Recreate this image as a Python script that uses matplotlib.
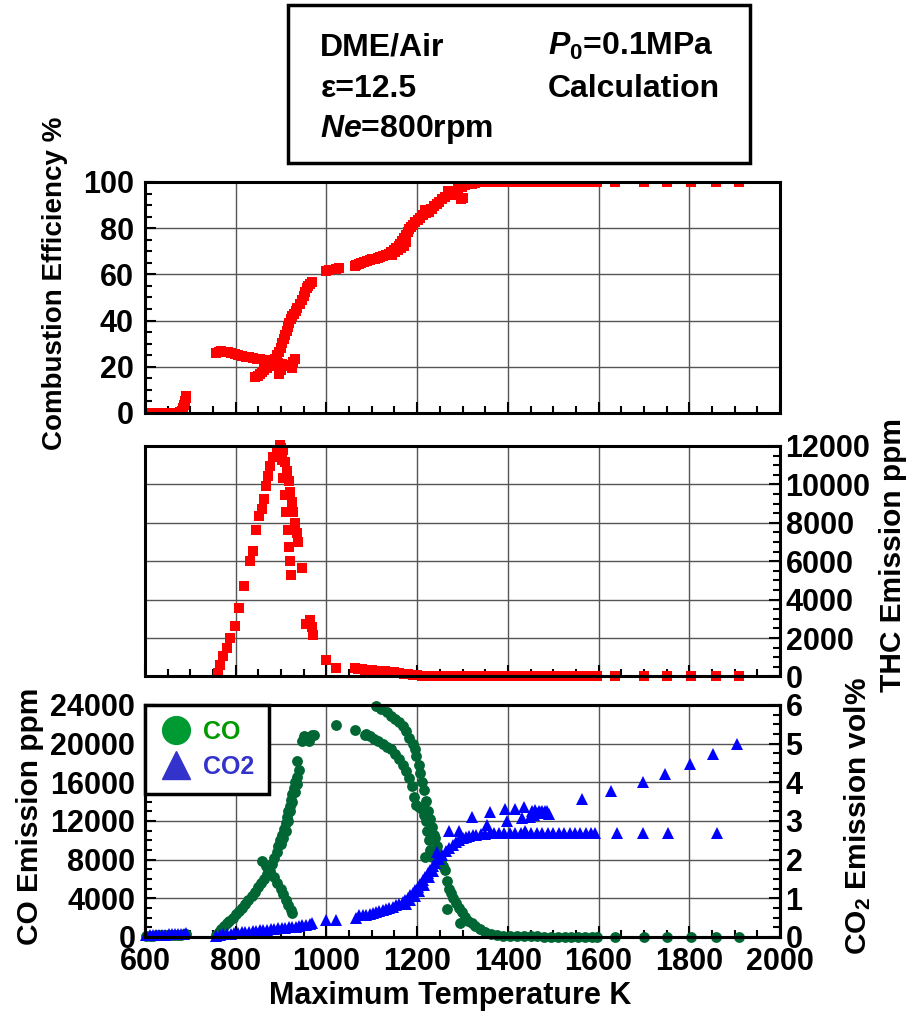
import numpy as np
import matplotlib
matplotlib.use("Agg")
import matplotlib.pyplot as plt
from matplotlib.ticker import MultipleLocator
from matplotlib.lines import Line2D
from matplotlib.patches import Rectangle

plt.rcParams['font.family'] = ['Liberation Sans', 'DejaVu Sans']
plt.rcParams['font.weight'] = 'bold'
plt.rcParams['mathtext.fontset'] = 'custom'
plt.rcParams['mathtext.rm'] = 'Liberation Sans:bold'
plt.rcParams['mathtext.bf'] = 'Liberation Sans:bold'
plt.rcParams['mathtext.it'] = 'Liberation Sans:bold:italic'

# --- data ---
# combustion efficiency (%)
eff_T = [603, 610, 617, 624, 631, 638, 645, 652, 659, 666, 672, 677, 681, 684, 686, 688, 690, 691,
         757, 762, 768, 775, 782, 790, 798, 806, 814, 822, 830, 838, 846, 854, 862, 870, 878, 886, 894, 902, 910, 918, 925,
         843, 848, 853, 858, 863, 868, 873, 878, 883, 887, 891, 895, 899, 903, 906, 909, 912, 915, 918, 921, 924, 928,
         932, 936, 941, 946, 950, 953, 956, 960, 964, 968,
         895, 900, 924, 930, 926,
         1000, 1005, 1022, 1027,
         1062, 1066, 1071, 1077, 1083, 1089, 1095, 1101, 1107, 1113, 1119, 1125, 1131, 1137, 1143, 1149, 1154, 1159,
         1163, 1167, 1171, 1175, 1179, 1183, 1187, 1191, 1196, 1201, 1207, 1213, 1219, 1225, 1231, 1237, 1243, 1249,
         1255, 1261, 1267, 1275, 1283, 1290, 1298, 1305, 1313, 1320, 1328, 1335, 1343,
         1145, 1152, 1158, 1164, 1170, 1176,
         1218, 1226, 1233, 1269, 1281, 1296, 1300,
         1350, 1360, 1370, 1380, 1390, 1400, 1410, 1420, 1430, 1440, 1450, 1460, 1470, 1480, 1490, 1500,
         1510, 1520, 1530, 1540, 1550, 1560, 1570, 1580, 1590, 1597,
         1636, 1700, 1750, 1803, 1859, 1909]
eff = [0, 0, 0, 0, 0, 0, 0, 0, 0, 0, 0, 0.5, 1, 2, 3.5, 5, 6.5, 7.5,
       26, 26.5, 26.7, 26.5, 26.2, 25.8, 25.5, 25.1, 24.8, 24.4, 24.1, 23.8, 23.5, 23.3, 23.0, 22.8, 22.4, 22.0, 21.6, 21.2, 20.8, 20.5, 20.2,
       15.5, 16.2, 17, 17.8, 18.6, 19.4, 20.2, 21.2, 22.3, 23.5, 25, 26.6, 28.3, 30.2, 32, 33.8, 35.5, 37.3, 39, 40.5, 41.8, 43,
       44.3, 45.6, 47.2, 48.8, 50.5, 52.5, 54, 55, 55.8, 56.5,
       17, 18.5, 19.5, 23.5, 22,
       61.3, 61.7, 62.5, 62.8,
       63.5, 64, 64.5, 64.8, 65.3, 65.8, 66.2, 66.5, 66.8, 67.2, 67.6, 68.0, 68.5, 69.0, 69.7, 70.5, 71.3, 72.3,
       73.3, 74.5, 75.8, 77, 78.3, 79.5, 80.5, 81.5, 82.5, 83.5, 84.5, 85.5, 86.5, 87.5, 88.5, 89.5, 90.5, 91.5,
       92.5, 93.5, 94.5, 95.5, 96.3, 97, 97.8, 98.5, 99, 99.3, 99.6, 99.8, 100,
       68.5, 69.5, 70.5, 71.5, 72.5, 74,
       88, 87, 88.5, 96, 94.5, 92.5, 93,
       100, 100, 100, 100, 100, 100, 100, 100, 100, 100, 100, 100, 100, 100, 100, 100,
       100, 100, 100, 100, 100, 100, 100, 100, 100, 100,
       100, 100, 100, 100, 100, 100]

# THC emission (ppm)
thc_T = [760, 766, 772, 780, 787, 798, 807, 819, 832, 838, 844, 851, 858, 862, 867, 872, 876, 883, 890, 897,
         899, 902, 905, 908, 911, 915, 917, 920, 922,
         904, 908, 913, 917, 920, 924, 927, 931, 934, 937,
         945, 954, 963, 968, 970, 1000, 1021,
         1063, 1070, 1078, 1085, 1092, 1100, 1110, 1120, 1130, 1140, 1150, 1160, 1170, 1180, 1190, 1200,
         1210, 1220, 1235, 1250, 1265, 1280, 1295, 1310, 1325, 1340, 1355, 1370, 1385, 1400, 1415, 1430,
         1445, 1460, 1475, 1490, 1505, 1520, 1535, 1550, 1565, 1580, 1597,
         1636, 1700, 1750, 1803, 1859, 1909]
thc = [200, 600, 1050, 1500, 2000, 2650, 3550, 4700, 6000, 6550, 7650, 8350, 8700, 9250, 9900, 10450, 10950, 11400, 11800, 12050,
       11900, 11250, 10350, 9450, 8550, 7650, 6750, 6000, 5300,
       11800, 11150, 10700, 10150, 9600, 9100, 8550, 8000, 7450, 7000,
       5650, 2750, 2950, 2600, 2150, 850, 450,
       450, 400, 380, 360, 340, 320, 300, 280, 260, 240, 210, 180, 140, 110, 80, 55,
       35, 20, 10, 5, 0, 0, 0, 0, 0, 0, 0, 0, 0, 0, 0, 0,
       0, 0, 0, 0, 0, 0, 0, 0, 0, 0, 0,
       0, 0, 0, 0, 0, 0]

# CO emission (ppm)
co_T = [603, 610, 617, 624, 631, 638, 645, 652, 659, 666, 673, 680, 686, 690,
        756, 762, 768, 774, 780, 786, 793, 800, 807, 814, 821, 828, 835, 842, 849, 856, 862, 868, 874, 880,
        885, 890, 894, 898, 902, 906, 910, 913, 916, 919, 922, 925, 928, 931, 934,
        900, 905, 910, 915, 920, 925, 930, 935,
        936, 940, 947, 950, 955, 962, 968, 973,
        857, 866, 875, 884, 892, 899, 905, 911, 916, 921, 924,
        1022, 1064, 1085, 1110, 1120, 1133, 1142, 1151, 1160, 1168, 1176, 1183, 1190, 1195, 1198, 1203, 1207,
        1210, 1214, 1219, 1224, 1228, 1232, 1236, 1240, 1243, 1247, 1252, 1258, 1262, 1266, 1270, 1274, 1280,
        1285, 1292, 1298, 1305, 1313, 1320, 1328, 1338, 1350, 1362, 1375, 1390, 1405, 1420,
        1435, 1450, 1465, 1480, 1495, 1510, 1525, 1540, 1555, 1570, 1585, 1597,
        1087, 1096, 1105, 1114, 1124, 1133, 1142, 1151, 1160, 1168, 1175, 1182, 1188, 1193, 1198, 1203, 1210,
        1215, 1219, 1222, 1226, 1229, 1232, 1218,
        1265, 1294,
        1636, 1700, 1750, 1803, 1859, 1909]
co = [150, 150, 150, 160, 160, 170, 170, 180, 190, 200, 220, 250, 300, 350,
      200, 500, 800, 1100, 1400, 1700, 2000, 2350, 2700, 3050, 3450, 3850, 4250, 4700, 5150, 5600, 6050, 6550, 7050, 7600,
      8150, 8800, 9400, 10000, 10600, 11200, 11800, 12400, 13000, 13600, 14200, 14800, 15400, 16000, 16600,
      9600, 10200, 11000, 12000, 13000, 14000, 15000, 15800,
      18200, 17300, 20300, 20800, 20700, 20300, 20900, 20900,
      7900, 7300, 6800, 6200, 5600, 5000, 4400, 3800, 3300, 2800, 2500,
      21900, 21400, 20900, 23900, 23600, 23300, 22900, 22600, 22200, 21800, 21300, 20600, 20000, 19400, 18700, 17800, 17000,
      16000, 15200, 14100, 13000, 12200, 11400, 10500, 10200, 9400, 8600, 7900, 7300, 6900, 5800, 5000, 4500, 4000,
      3500, 3000, 2600, 2100, 1700, 1400, 1100, 800, 550, 350, 220, 150, 110, 90,
      70, 60, 55, 50, 50, 45, 45, 40, 40, 40, 40, 40,
      21000, 20800, 20500, 20300, 20000, 19700, 19400, 18900, 18400, 17800, 17200, 16400, 15600, 14500, 13700, 13400, 13200,
      12600, 12000, 11000, 10000, 9000, 8300, 8300,
      2900, 1400,
      0, 0, 0, 0, 0, 0]

# CO2 emission (vol%)
co2_T = [603, 610, 617, 624, 631, 638, 645, 652, 659, 666, 673, 680, 686, 690,
         757, 765, 773, 781, 789, 797, 805, 813, 821, 829, 837, 845, 853, 861, 869, 877, 885, 893, 901, 909, 917,
         925, 933, 940, 946, 955, 963, 969, 999, 1021,
         1065, 1072, 1080, 1087, 1095, 1102, 1109, 1116, 1124, 1131, 1138, 1146, 1153, 1160, 1168, 1174, 1179,
         1185, 1190, 1196, 1201, 1207, 1212, 1218, 1223, 1229, 1234, 1240, 1248, 1255, 1263, 1270, 1278, 1285, 1293,
         1300, 1307, 1315, 1322, 1330, 1340, 1350, 1360, 1370, 1380, 1392,
         1404, 1416, 1428, 1440, 1452, 1464, 1476, 1488, 1500, 1512, 1524, 1536, 1548, 1560, 1572, 1584, 1592,
         1175, 1185, 1195, 1205, 1215, 1225, 1235,
         1243, 1271, 1293, 1321, 1353, 1361, 1393, 1397, 1416, 1435, 1431, 1449, 1453, 1457, 1460, 1465, 1468,
         1472, 1475, 1478, 1482, 1486, 1490, 1438,
         1640, 1697, 1753, 1861,
         1563, 1627, 1698, 1746, 1801, 1853, 1905]
co2 = [0.05, 0.05, 0.05, 0.06, 0.06, 0.06, 0.06, 0.07, 0.07, 0.07, 0.08, 0.08, 0.09, 0.1,
       0.03, 0.05, 0.07, 0.08, 0.09, 0.1, 0.11, 0.12, 0.13, 0.14, 0.15, 0.16, 0.17, 0.18, 0.19, 0.2, 0.21, 0.22, 0.23, 0.24, 0.25,
       0.26, 0.27, 0.28, 0.3, 0.31, 0.33, 0.35, 0.43, 0.43,
       0.5, 0.56, 0.57, 0.58, 0.6, 0.62, 0.64, 0.67, 0.7, 0.72, 0.75, 0.78, 0.82, 0.86, 0.91, 0.96, 1.02,
       1.08, 1.15, 1.22, 1.3, 1.38, 1.47, 1.56, 1.65, 1.74, 1.83, 1.92, 2.02, 2.12, 2.22, 2.3, 2.38, 2.45, 2.5,
       2.55, 2.58, 2.61, 2.63, 2.65, 2.66, 2.67, 2.68, 2.69, 2.7, 2.7,
       2.7, 2.7, 2.7, 2.7, 2.7, 2.7, 2.7, 2.7, 2.7, 2.7, 2.7, 2.7, 2.7, 2.7, 2.7, 2.7, 2.7,
       0.85, 0.95, 1.05, 1.2, 1.35, 1.55, 1.7,
       2.2, 2.74, 2.74, 3.1, 2.9, 3.24, 3.3, 3.0, 3.3, 3.35, 3.07, 3.1, 3.26, 3.15, 3.28, 3.2, 3.26,
       3.22, 3.27, 3.2, 3.26, 3.25, 3.17, 2.74,
       2.7, 2.7, 2.7, 2.7,
       3.57, 3.77, 4.02, 4.22, 4.48, 4.73, 4.98]

x_ticks = [600, 800, 1000, 1200, 1400, 1600, 1800, 2000]

RED = '#ff0000'
GREEN = '#006633'
BLUE = '#0000ff'
FS = 22

fig = plt.figure(figsize=(9.15, 10.11), dpi=100)
L, W = 0.1585, 0.694
ax1 = fig.add_axes([L, 0.5915, W, 0.2285])
ax2 = fig.add_axes([L, 0.3309, W, 0.2280])
ax3 = fig.add_axes([L, 0.0732, W, 0.2295])
ax3b = ax3.twinx()


def style(ax):
    ax.set_xlim(600, 2000)
    ax.set_xticks(x_ticks)
    ax.xaxis.set_minor_locator(MultipleLocator(50))
    ax.grid(True, which='major', color='#555555', linewidth=1.0)
    ax.set_axisbelow(True)
    for s in ax.spines.values():
        s.set_linewidth(2.2)
    ax.tick_params(which='both', direction='in', width=1.5, labelsize=FS)
    ax.tick_params(which='major', length=8)
    ax.tick_params(which='minor', length=5)


for a in (ax1, ax2, ax3):
    style(a)

# --- top: combustion efficiency ---
ax1.plot(eff_T, eff, 's', color=RED, markersize=7.6, markeredgewidth=0)
ax1.set_ylim(0, 100)
ax1.set_yticks([0, 20, 40, 60, 80, 100])
ax1.yaxis.set_minor_locator(MultipleLocator(5))
ax1.tick_params(axis='x', labelbottom=False)
ax1.tick_params(axis='y', pad=8)

# --- middle: THC ---
ax2.plot(thc_T, thc, 's', color=RED, markersize=7.6, markeredgewidth=0, clip_on=False)
ax2.set_ylim(0, 12000)
ax2.set_yticks(range(0, 12001, 2000))
ax2.yaxis.set_minor_locator(MultipleLocator(500))
ax2.yaxis.tick_right()
ax2.tick_params(axis='x', labelbottom=False)
ax2.tick_params(axis='y', pad=4)

# --- bottom: CO and CO2 ---
ax3.plot(co_T, co, 'o', color=GREEN, markersize=7.8, markeredgewidth=0, clip_on=False)
ax3.set_ylim(0, 24000)
ax3.set_yticks(range(0, 24001, 4000))
ax3.yaxis.set_minor_locator(MultipleLocator(1000))
ax3.tick_params(axis='y', pad=7)
ax3.tick_params(axis='x', pad=7)

ax3b.plot(co2_T, co2, '^', color=BLUE, markersize=8.4, markeredgewidth=0, clip_on=False)
ax3b.set_ylim(0, 6)
ax3b.set_yticks(range(0, 7))
ax3b.yaxis.set_minor_locator(MultipleLocator(0.25))
ax3b.tick_params(which='both', direction='in', width=1.5, labelsize=FS, pad=4)
ax3b.tick_params(which='major', length=8)
ax3b.tick_params(which='minor', length=5)
for s in ax3b.spines.values():
    s.set_linewidth(2.2)

# the bottom "0" labels sit right above the corner x labels, lift them a touch
for lab in ax3.get_yticklabels() + ax3b.get_yticklabels():
    lab.set_verticalalignment('center_baseline')

handles = [Line2D([], [], marker='o', color='#009a33', linestyle='none', markersize=20),
           Line2D([], [], marker='^', color='#3333cc', linestyle='none', markersize=20)]
leg = ax3b.legend(handles, ['CO', 'CO2'], loc='upper left', bbox_to_anchor=(0, 1), borderaxespad=0,
                  fancybox=False, framealpha=1, edgecolor='black', fontsize=18,
                  handletextpad=0.4, labelspacing=0.45, borderpad=0.6, handlelength=1.3)
leg.get_frame().set_linewidth(2.5)
leg.get_texts()[0].set_color('#009900')
leg.get_texts()[1].set_color('#3333cc')

# --- axis labels ---
fig.text(0.060, 0.72, 'Combustion Efficiency %', rotation=90, ha='center', va='center', fontsize=20)
fig.text(0.976, 0.451, 'THC Emission ppm', rotation=90, ha='center', va='center', fontsize=21.5)
fig.text(0.033, 0.193, 'CO Emission ppm', rotation=90, ha='center', va='center', fontsize=21.5)
fig.text(0.937, 0.193, 'CO$_2$ Emission vol%', rotation=90, ha='center', va='center', fontsize=21.5)
fig.text(0.492, 1 - 1004 / 1011, 'Maximum Temperature K', ha='center', va='baseline', fontsize=FS)

# --- condition box ---
fig.patches.append(Rectangle((0.3148, 0.8388), 0.505, 0.1563, transform=fig.transFigure,
                             fill=False, edgecolor='black', linewidth=2.5))
BFS = 23
fig.text(0.350, 1 - 55 / 1011, 'DME/Air', fontsize=BFS, va='baseline')
fig.text(0.350, 1 - 97 / 1011, 'ε=12.5', fontsize=BFS, va='baseline')
fig.text(0.350, 1 - 137 / 1011, '$Ne$=800rpm', fontsize=BFS, va='baseline')
fig.text(0.599, 1 - 55 / 1011, r'$P_{\mathit{0}}$=0.1MPa', fontsize=BFS, va='baseline')
fig.text(0.599, 1 - 97 / 1011, 'Calculation', fontsize=BFS, va='baseline')

fig.savefig('out.png', dpi=100)
